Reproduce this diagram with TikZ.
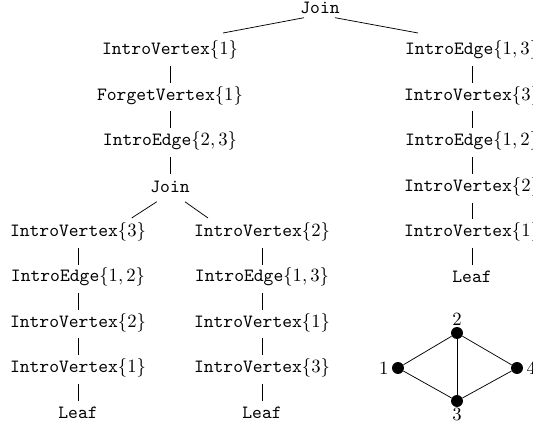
\documentclass[tikz,border=0pt]{standalone}
\begin{document}
\begin{tikzpicture}[x=0.535pt,y=-0.535pt,
  tn/.style={font=\ttfamily, inner sep=0.3333em},
  dot/.style={circle, fill=black, inner sep=0pt, minimum size=6.4pt},
  every path/.style={line width=0.4pt}]
\useasboundingbox (0,0) rectangle (533,430);
\newcommand\vln[2]{\draw ([shift={(0,16)}]#1.center) -- ([shift={(0,-12.5)}]#2.center);}
% levels
\def\yA{8}\def\yB{50}\def\yC{95.4}\def\yD{140.8}\def\yE{186.6}
\def\yF{231.6}\def\yG{277}\def\yH{322.4}\def\yI{367.8}\def\yJ{413.2}
% root
\node[tn] (r) at (320,\yA) {Join};
% left branch
\node[tn] (a1) at (170,\yB) {IntroVertex$\{1\}$};
\node[tn] (a2) at (170,\yC) {ForgetVertex$\{1\}$};
\node[tn] (a3) at (170,\yD) {IntroEdge$\{2,3\}$};
\node[tn] (a4) at (170,\yE) {Join};
% sub-left
\node[tn] (b1) at (78,\yF) {IntroVertex$\{3\}$};
\node[tn] (b2) at (78,\yG) {IntroEdge$\{1,2\}$};
\node[tn] (b3) at (78,\yH) {IntroVertex$\{2\}$};
\node[tn] (b4) at (78,\yI) {IntroVertex$\{1\}$};
\node[tn] (b5) at (78,\yJ) {Leaf};
% sub-middle
\node[tn] (c1) at (262,\yF) {IntroVertex$\{2\}$};
\node[tn] (c2) at (262,\yG) {IntroEdge$\{1,3\}$};
\node[tn] (c3) at (262,\yH) {IntroVertex$\{1\}$};
\node[tn] (c4) at (262,\yI) {IntroVertex$\{3\}$};
\node[tn] (c5) at (262,\yJ) {Leaf};
% right branch
\node[tn] (d1) at (472,\yB) {IntroEdge$\{1,3\}$};
\node[tn] (d2) at (472,\yC) {IntroVertex$\{3\}$};
\node[tn] (d3) at (472,\yD) {IntroEdge$\{1,2\}$};
\node[tn] (d4) at (472,\yE) {IntroVertex$\{2\}$};
\node[tn] (d5) at (472,\yF) {IntroVertex$\{1\}$};
\node[tn] (d6) at (472,\yG) {Leaf};
% diagonal edges
\draw ([shift={(-16,9.7)}]r.center) -- ([shift={(53,-17)}]a1.center);
\draw ([shift={(15,9.7)}]r.center) -- ([shift={(-54,-17)}]d1.center);
\draw ([shift={(-13.3,15.2)}]a4.center) -- ([shift={(53.7,-13.6)}]b1.center);
\draw ([shift={(15,15.2)}]a4.center) -- ([shift={(-54,-13.6)}]c1.center);
% vertical edges
\vln{a1}{a2}
\vln{a2}{a3}
\vln{a3}{a4}
\vln{b1}{b2}
\vln{b2}{b3}
\vln{b3}{b4}
\vln{b4}{b5}
\vln{c1}{c2}
\vln{c2}{c3}
\vln{c3}{c4}
\vln{c4}{c5}
\vln{d1}{d2}
\vln{d2}{d3}
\vln{d3}{d4}
\vln{d4}{d5}
\vln{d5}{d6}
% graph
\node[dot, label={[inner sep=1.5pt]left:$1$}] (g1) at (398,368) {};
\node[dot, label={[inner sep=0.5pt]above:$2$}] (g2) at (457,333) {};
\node[dot, label={[inner sep=0.5pt]below:$3$}] (g3) at (457,401) {};
\node[dot, label={[inner sep=1.5pt]right:$4$}] (g4) at (517,368) {};
\draw (g1) -- (g2) -- (g4) -- (g3) -- (g1);
\draw (g2) -- (g3);
\end{tikzpicture}
\end{document}
